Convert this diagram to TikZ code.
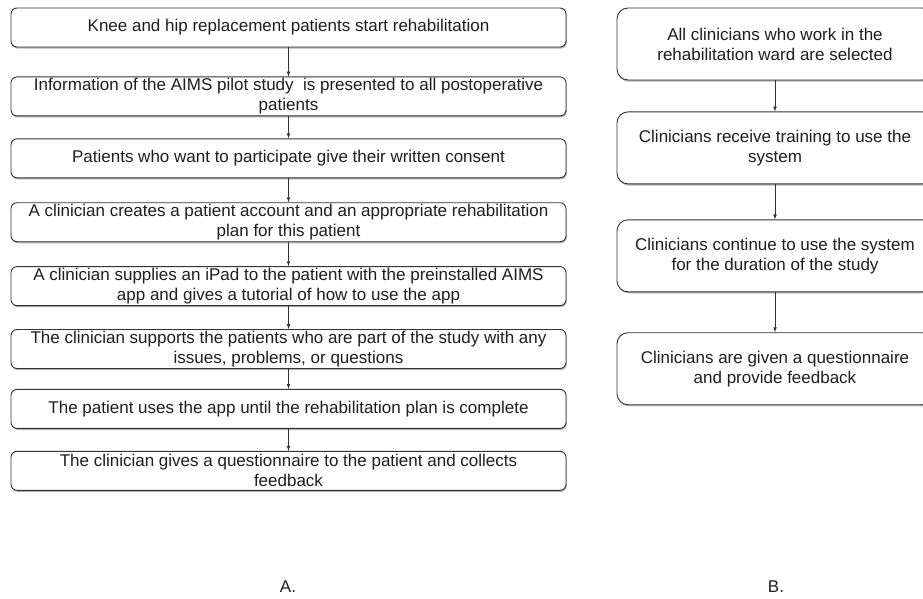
\documentclass[tikz,border=0pt]{standalone}
\usepackage{fontspec}
\setmainfont{Liberation Sans}
\usetikzlibrary{arrows,positioning,shadows}
\definecolor{boxline}{RGB}{51,51,51}
\definecolor{textgray}{RGB}{30,30,30}

\tikzset{
  patbox/.style={rectangle, rounded corners=6pt, draw=boxline, line width=0.9pt, fill=white,
    minimum width=555pt, minimum height=39pt, inner ysep=0pt, align=center, text=textgray,
    drop shadow={shadow xshift=0.8pt, shadow yshift=-1.6pt, fill=black!60, opacity=0.5}},
  clinbox/.style={patbox, rounded corners=11pt, minimum width=316pt, minimum height=72pt},
  flow/.style={->, boxline, line width=0.7pt}
}

\begin{document}
\begin{tikzpicture}[x=1pt, y=-1pt, >=latex, font=\fontsize{17}{20}\selectfont]
\useasboundingbox (0,0) rectangle (923,599);
\clip (0,0) rectangle (923,599);

% A. patients
\node[patbox] (pat1) at (288.5,27.5) {Knee and hip replacement patients start rehabilitation};
\node[patbox, below=29pt of pat1] (pat2) {Information of the AIMS pilot study\ \ is presented to all postoperative\\patients};
\node[patbox, below=22pt of pat2] (pat3) {Patients who want to participate give their written consent};
\node[patbox, below=24pt of pat3] (pat4) {A clinician creates a patient account and an appropriate rehabilitation\\plan for this patient};
\node[patbox, below=24pt of pat4] (pat5) {A clinician supplies an iPad to the patient with the preinstalled AIMS\\app and gives a tutorial of how to use the app};
\node[patbox, below=23pt of pat5] (pat6) {The clinician supports the patients who are part of the study with any\\issues, problems, or questions};
\node[patbox, below=20pt of pat6] (pat7) {The patient uses the app until the rehabilitation plan is complete};
\node[patbox, below=22pt of pat7] (pat8) {The clinician gives a questionnaire to the patient and collects\\feedback};

% B. clinicians
\node[clinbox] (clin1) at (775,44) {All clinicians who work in the\\rehabilitation ward are selected};
\node[clinbox, below=31pt of clin1] (clin2) {Clinicians receive training to use the\\system};
\node[clinbox, below=35pt of clin2] (clin3) {Clinicians continue to use the system\\for the duration of the study};
\node[clinbox, below=40pt of clin3] (clin4) {Clinicians are given a questionnaire\\and provide feedback};

\node[text=textgray] (labA) at (288,587) {A.};
\node[text=textgray] (labB) at (776,587) {B.};

\draw[flow] (pat1) -- (pat2);
\draw[flow] (pat2) -- (pat3);
\draw[flow] (pat3) -- (pat4);
\draw[flow] (pat4) -- (pat5);
\draw[flow] (pat5) -- (pat6);
\draw[flow] (pat6) -- (pat7);
\draw[flow] (pat7) -- (pat8);

\draw[flow] (clin1) -- (clin2);
\draw[flow] (clin2) -- (clin3);
\draw[flow] (clin3) -- (clin4);
\end{tikzpicture}
\end{document}
